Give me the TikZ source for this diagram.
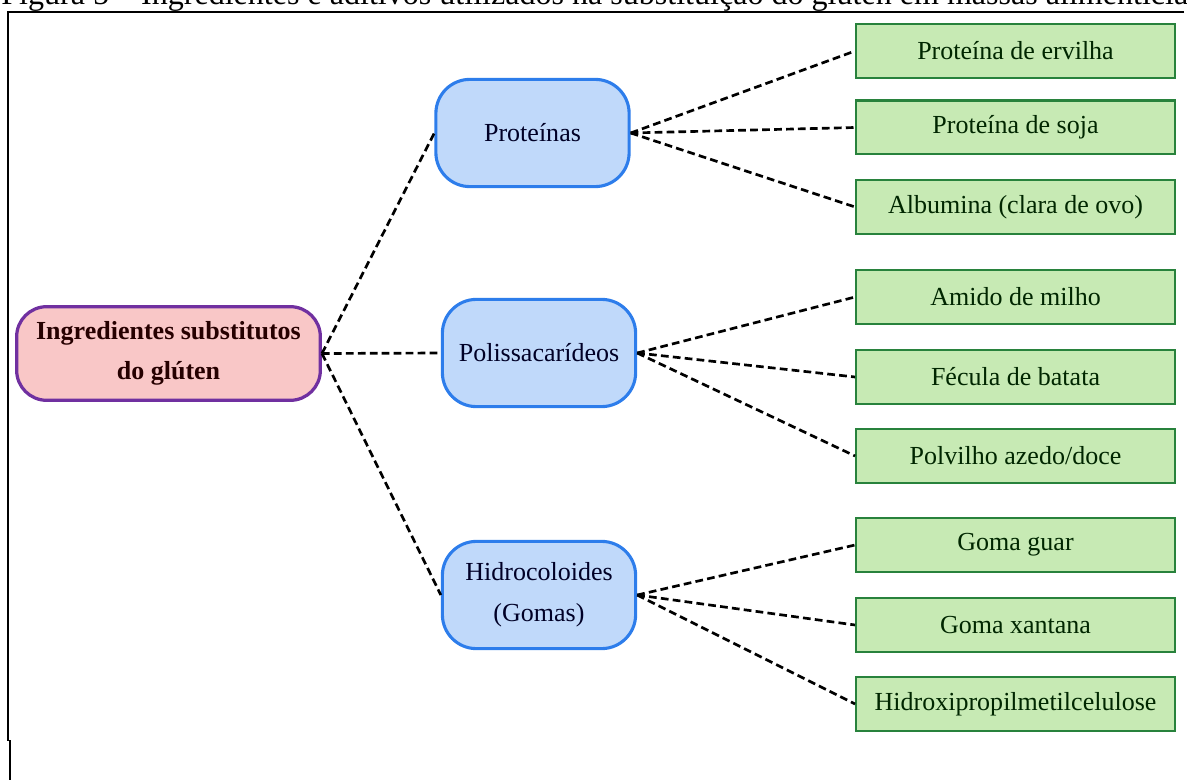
\documentclass[tikz,border=0pt]{standalone}
\usepackage{fontspec}
\setmainfont{Liberation Serif}

\definecolor{rosa}{RGB}{249,199,199}
\definecolor{roxo}{RGB}{112,48,160}
\definecolor{azulclaro}{RGB}{192,217,250}
\definecolor{azul}{RGB}{45,125,235}
\definecolor{verdeclaro}{RGB}{199,234,180}
\definecolor{verde}{RGB}{40,130,60}

\begin{document}
\begin{tikzpicture}[
        x=0.025cm, y=-0.025cm, % coordenadas em pixels da figura
        raiz/.style={rounded corners=0.75cm, draw=roxo, fill=rosa, line width=2.3pt,
            minimum width=7.59cm, minimum height=2.34cm, align=center,
            font=\fontsize{18.5}{28.5}\selectfont\bfseries, text=black!85!red}, % no central
        grupo/.style={rounded corners=0.85cm, draw=azul, fill=azulclaro, line width=2.2pt,
            minimum width=4.83cm, minimum height=2.68cm, align=center,
            font=\fontsize{18.5}{29}\selectfont, text=black!85!blue}, % grupos
        item/.style={draw=verde, fill=verdeclaro, line width=1.7pt,
            minimum width=7.96cm, minimum height=1.34cm,
            font=\fontsize{18.5}{22}\selectfont, text=black!85!green}, % folhas
        ligacao/.style={draw, line width=1.9pt, dash pattern=on 5.5pt off 3pt},
        moldura/.style={draw, line width=1.1pt},
    ]

    \useasboundingbox (0,0) rectangle (1187,780);

    % legenda cortada no topo
    \begin{scope}
        \clip (0,0) rectangle (1187,780);
        \node[anchor=base west, inner sep=0pt, font=\fontsize{22.8}{26}\selectfont] (legenda) at (1,5)
            {Figura 5 -- Ingredientes e aditivos utilizados na substituição do glúten em massas alimentícias};
    \end{scope}

    % moldura
    \coordinate (cantoA) at (8,12);
    \coordinate (cantoB) at (1184,12);
    \coordinate (cantoC) at (9,740);
    \coordinate (cantoD) at (10,740);
    \coordinate (cantoE) at (10,780);
    \draw[moldura] (cantoB) -- (cantoA) |- (cantoC);
    \draw[moldura, line width=1.6pt] (cantoD) -- (cantoE);

    \node[raiz] (gluten) at (168.5,353.5) {Ingredientes substitutos\\do glúten};

    \node[grupo] (proteinas) at (532.5,133) {Proteínas};
    \node[grupo] (polissac) at (539,353) {Polissacarídeos};
    \node[grupo] (hidro) at (539,595) {Hidrocoloides\\(Gomas)};

    \node[item] (ervilha) at (1015.5,51) {Proteína de ervilha};
    \node[item] (soja) at (1015.5,127.5) {Proteína de soja};
    \node[item] (albumina) at (1015.5,207) {Albumina (clara de ovo)};
    \node[item] (milho) at (1015.5,297) {Amido de milho};
    \node[item] (batata) at (1015.5,377) {Fécula de batata};
    \node[item] (polvilho) at (1015.5,456) {Polvilho azedo/doce};
    \node[item] (guar) at (1015.5,545) {Goma guar};
    \node[item] (xantana) at (1015.5,625) {Goma xantana};
    \node[item] (hpmc) at (1015.5,704) {Hidroxipropilmetilcelulose};

    \foreach \g in {proteinas, polissac, hidro}
        \draw[ligacao] (gluten.east) -- (\g.west);
    \foreach \f in {ervilha, soja, albumina}
        \draw[ligacao] (proteinas.east) -- (\f.west);
    \foreach \f in {milho, batata, polvilho}
        \draw[ligacao] (polissac.east) -- (\f.west);
    \foreach \f in {guar, xantana, hpmc}
        \draw[ligacao] (hidro.east) -- (\f.west);
\end{tikzpicture}
\end{document}
